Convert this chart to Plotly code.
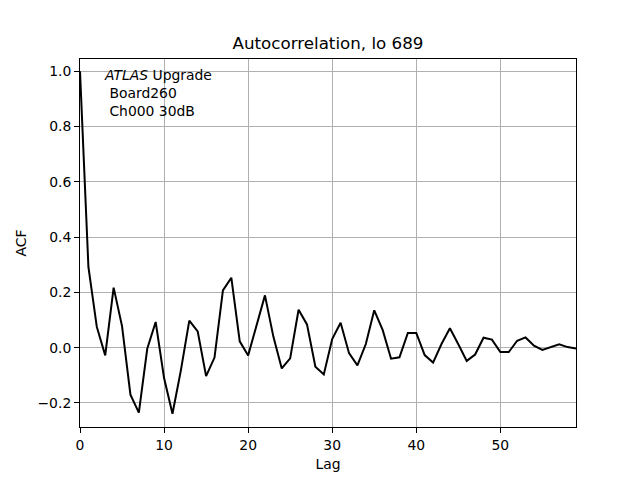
import plotly.graph_objects as go

lags = list(range(60))
acf = [1.0, 0.292, 0.075, -0.028, 0.217, 0.078, -0.17, -0.235, -0.004, 0.093,
       -0.11, -0.239, -0.082, 0.098, 0.059, -0.103, -0.036, 0.207, 0.253, 0.023,
       -0.028, 0.08, 0.189, 0.04, -0.075, -0.039, 0.137, 0.084, -0.069, -0.097,
       0.031, 0.09, -0.02, -0.064, 0.013, 0.135, 0.064, -0.04, -0.035, 0.053,
       0.053, -0.027, -0.054, 0.013, 0.07, 0.012, -0.048, -0.025, 0.036, 0.029,
       -0.016, -0.016, 0.025, 0.037, 0.007, -0.008, 0.003, 0.012, 0.002, -0.003]
x_ticks = [0, 10, 20, 30, 40, 50]
y_ticks = [-0.2, 0.0, 0.2, 0.4, 0.6, 0.8, 1.0]

fig = go.Figure()
fig.add_trace(go.Scatter(x=lags, y=acf, mode="lines",
                         line=dict(color="black", width=2), showlegend=False))

font = "DejaVu Sans, sans-serif"
fs = 13.9
fig.update_layout(
    width=640, height=480,
    margin=dict(l=72, r=72, t=51, b=61),
    paper_bgcolor="white", plot_bgcolor="white",
    font=dict(family=font, size=fs, color="black"),
    title=dict(text="Autocorrelation, lo 689", x=0.5, xanchor="center",
               y=1 - 35 / 480, yanchor="middle", font=dict(size=16.7, family=font)),
    xaxis=dict(range=[0, 59], tickvals=x_ticks, ticks="outside", ticklen=5,
               tickcolor="black", showgrid=True, gridcolor="#b0b0b0", gridwidth=1,
               showline=True, linecolor="black", linewidth=1, mirror=True,
               zeroline=False,
               title=dict(text="Lag", standoff=7, font=dict(size=fs, family=font)),
               tickfont=dict(size=fs)),
    yaxis=dict(range=[-0.287, 1.044], tickvals=y_ticks, tickformat=".1f",
               ticks="outside", ticklen=5, tickcolor="black", showgrid=True,
               gridcolor="#b0b0b0", gridwidth=1, showline=True, linecolor="black",
               linewidth=1, mirror=True, zeroline=False,
               title=dict(text="ACF", standoff=7, font=dict(size=fs, family=font)),
               tickfont=dict(size=fs)),
    annotations=[dict(
        text="<i>ATLAS</i> Upgrade<br>\u00a0Board260<br>\u00a0Ch000 30dB",
        xref="paper", yref="paper", x=0.044, y=0.984, xanchor="left",
        yanchor="top", align="left", showarrow=False,
        font=dict(size=fs, family=font, color="black"))],
)

fig.write_html("out.html")
